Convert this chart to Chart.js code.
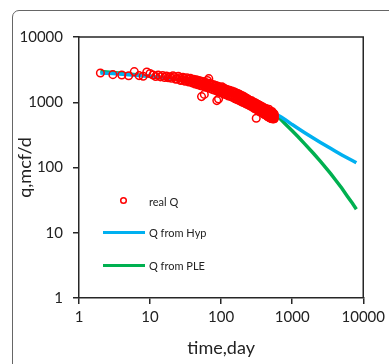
<!DOCTYPE html>
<html>
<head>
<meta charset="utf-8">
<script src="https://cdn.jsdelivr.net/npm/chart.js@4/dist/chart.umd.min.js"></script>
<style>
  html, body { margin: 0; padding: 0; background: #fff; overflow: hidden; width: 389px; height: 364px; }
  #frame { position: absolute; left: 12px; top: 10px; width: 420px; height: 420px; border: 1px solid #666; border-radius: 7px; box-sizing: border-box; }
  #c { position: absolute; left: 0; top: 0; }
</style>
</head>
<body>
<div id="frame"></div>
<canvas id="c" width="389" height="364"></canvas>
<script>
// ---- data ----
const realDays = [2,3,4,5,6,7,8,9,10,11,12,13,14,15,16,17,18,19,20,
  22,24,26,28,30,32,34,36,38,40,42,44,46,48,50,52,54,56,58,60,
  63,66,69,72,75,78,81,84,87,90,93,96,99,102,105,108,111,114,117,120,
  125,130,135,140,145,150,155,160,165,170,175,180,185,190,195,200,205,210,215,220,225,230,235,240,245,250,
  258,266,274,282,290,298,306,314,322,330,338,346,354,362,370,378,386,394,402,410,418,426,434,442,450,458,466,474,482,490,498,506,514,522,530,538,546,554,562,
  470,520,540,500,430,560,53,58,67,64,87,92,312,
  21,23,25,27,29,31,33,35,37,39,41,43,45,47,49,51,53,55,57,59,61,
  64,67,70,73,76,79,82,85,88,91,94,97,100,103,106,109,112,115,118,
  122,127,132,137,142,147,152,157,162,167,172,177,182,187,192,197,202,207,212,217,222,227,232,237,242,247,
  254,262,270,278,286,294,302,310,318,326,334,342,350,358,366,374,382,390,398,406,414,422,430,438,446,454,462,470,478,486,494,502,510,518,526,534,542,550,558];
const realRate = [2800,2650,2620,2550,2950,2560,2500,2900,2750,2620,2480,2600,2450,2560,2400,2520,2380,2450,2330,
  2450,2280,2380,2200,2330,2150,2260,2080,2200,2050,2150,1980,2100,1920,2080,1900,2000,1850,1960,1800,
  1950,1760,1880,1700,1820,1650,1760,1600,1700,1560,1680,1520,1640,1480,1600,1450,1550,1420,1520,1380,
  1450,1320,1420,1280,1380,1250,1360,1220,1310,1180,1280,1150,1230,1120,1200,1080,1170,1060,1130,1030,1100,990,1070,960,1040,940,
  1020,910,990,880,950,840,920,810,880,790,860,770,830,750,810,730,790,710,770,690,750,670,730,660,710,640,700,630,680,610,670,600,650,600,640,590,630,590,620,
  780,720,560,570,800,560,1220,1320,2300,2150,1060,1120,570,
  2550,2250,2500,2150,2420,2100,2380,2050,2320,1980,2250,1900,2200,1850,2150,1800,2100,1780,2050,1720,2000,
  1680,1960,1620,1900,1560,1850,1520,1800,1480,1750,1430,1700,1400,1720,1360,1650,1330,1600,1300,
  1560,1250,1520,1220,1480,1180,1450,1130,1400,1100,1360,1070,1320,1040,1280,1010,1250,990,1210,960,1170,940,1140,920,1100,900,
  1070,870,1050,840,1010,800,980,780,950,760,920,730,900,710,870,690,850,670,830,650,800,640,780,620,760,600,740,590,720,580,710,570,700,560,690,560,680,560,660];

const hypDays = [2,3,5,10,20,50,100,200,300,400,500,600,700,800,1000,1200,1500,2000,2500,3000,3500,4000,5000,6000,7000,8000];
const hypRate = [2800,2750,2650,2500,2300,1950,1570,1130,900,760,700,650,595,540,455,399,341,280,242,215,195,179,156,140,128,118];

const pleDays = [2,3,5,10,20,50,100,200,300,400,500,600,700,800,1000,1200,1500,2000,2500,3000,3500,4000,5000,6000,7000,8000];
const pleRate = [2950,2850,2700,2500,2300,1950,1570,1120,900,770,700,625,540,465,365,298,230,164,124,98,80,66,48,36,28.5,23];

const decadeTicks = [1,10,100,1000,10000];
const seriesNames = ['real Q', 'Q from Hyp', 'Q from PLE'];
const xTitle = 'time,day';
const yTitle = 'q,mcf/d';

// ---- chart ----
const toXY = (xs, ys) => xs.map((x, i) => ({ x: x, y: ys[i] }));
const RED = '#FF0000', BLUE = '#00B0F0', GREEN = '#00B050', AXIS = '#262626';

const frameBox = {
  id: 'frameBox',
  afterDraw(chart) {
    const { ctx, chartArea: a } = chart;
    ctx.save();
    ctx.strokeStyle = AXIS;
    ctx.lineWidth = 1.5;
    ctx.beginPath();
    ctx.moveTo(a.left, a.top);
    ctx.lineTo(a.right, a.top);
    ctx.lineTo(a.right, a.bottom);
    ctx.stroke();
    ctx.restore();
  }
};

const innerLegend = {
  id: 'innerLegend',
  afterDraw(chart) {
    const ctx = chart.ctx;
    ctx.save();
    ctx.font = '11px Lato';
    ctx.fillStyle = '#222';
    ctx.textBaseline = 'middle';
    ctx.textAlign = 'left';
    ctx.strokeStyle = RED;
    ctx.lineWidth = 1.5;
    ctx.beginPath();
    ctx.arc(123.5, 200.5, 2.8, 0, Math.PI * 2);
    ctx.stroke();
    ctx.fillText(seriesNames[0], 149, 202);
    ctx.strokeStyle = BLUE;
    ctx.lineWidth = 3;
    ctx.beginPath(); ctx.moveTo(103, 232.5); ctx.lineTo(145, 232.5); ctx.stroke();
    ctx.fillText(seriesNames[1], 149, 233);
    ctx.strokeStyle = GREEN;
    ctx.beginPath(); ctx.moveTo(103, 265.5); ctx.lineTo(145, 265.5); ctx.stroke();
    ctx.fillText(seriesNames[2], 149, 266);
    ctx.restore();
  }
};

const axisCommon = (titleText) => ({
  type: 'logarithmic',
  min: 1,
  max: 10000,
  afterBuildTicks: (s) => { s.ticks = decadeTicks.map(v => ({ value: v, major: true })); },
  ticks: {
    autoSkip: false,
    color: '#222',
    font: { family: 'Lato', size: 15 },
    callback: (v) => String(v)
  },
  grid: { drawOnChartArea: false, drawTicks: true, tickLength: 6, color: AXIS, lineWidth: 1.5 },
  border: { display: true, color: AXIS, width: 1.5 },
  title: { display: true, text: titleText, color: '#222', font: { family: 'Lato', size: 18 } }
});

const xAxis = axisCommon(xTitle);
xAxis.ticks.padding = 4;
xAxis.ticks.maxRotation = 0;
xAxis.title.padding = { top: 2, bottom: 5 };
xAxis.afterFit = (s) => { s.height = 66; };

const yAxis = axisCommon(yTitle);
yAxis.ticks.padding = 10;
yAxis.title.padding = { top: 14, bottom: 0 };
yAxis.afterFit = (s) => { s.width = 79; };

new Chart(document.getElementById('c'), {
  type: 'scatter',
  data: {
    datasets: [
      {
        label: seriesNames[0],
        data: toXY(realDays, realRate),
        showLine: false,
        pointStyle: 'circle',
        pointRadius: 3.8,
        pointBorderWidth: 1.5,
        pointBorderColor: RED,
        pointBackgroundColor: 'rgba(255,255,255,0)',
        borderColor: RED,
        backgroundColor: 'rgba(255,255,255,0)'
      },
      {
        label: seriesNames[1],
        data: toXY(hypDays, hypRate),
        showLine: true,
        pointRadius: 0,
        borderColor: BLUE,
        borderWidth: 3.5,
        tension: 0
      },
      {
        label: seriesNames[2],
        data: toXY(pleDays, pleRate),
        showLine: true,
        pointRadius: 0,
        borderColor: GREEN,
        borderWidth: 3.5,
        tension: 0
      }
    ]
  },
  options: {
    responsive: false,
    animation: false,
    layout: { padding: { left: 0, right: 23, top: 37, bottom: 0 } },
    plugins: { legend: { display: false }, tooltip: { enabled: false } },
    scales: { x: xAxis, y: yAxis }
  },
  plugins: [frameBox, innerLegend]
});
</script>
</body>
</html>
